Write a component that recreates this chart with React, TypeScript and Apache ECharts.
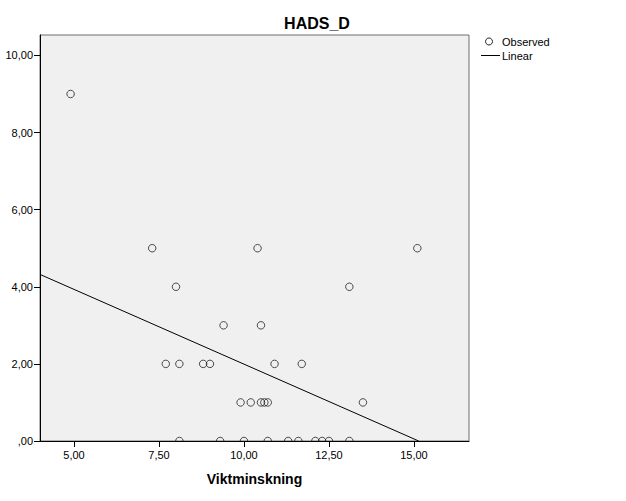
import React, { useEffect, useRef } from "react";
import * as echarts from "echarts";

const titleText = "HADS_D";
const xAxisName = "Viktminskning";
const xTicks = [5, 7.5, 10, 12.5, 15];
const yTicks = [0, 2, 4, 6, 8, 10];
const xRange = [4.0, 16.62];
const yRange = [0, 10.53];

// Observed points [Viktminskning, HADS_D]
const observed: number[][] = [
  [4.9, 9],
  [7.3, 5],
  [10.4, 5],
  [15.1, 5],
  [8.0, 4],
  [13.1, 4],
  [9.4, 3],
  [10.5, 3],
  [7.7, 2],
  [8.1, 2],
  [8.8, 2],
  [9.0, 2],
  [10.9, 2],
  [11.7, 2],
  [9.9, 1],
  [10.2, 1],
  [10.5, 1],
  [10.6, 1],
  [10.7, 1],
  [13.5, 1],
  [8.1, 0],
  [9.3, 0],
  [10.0, 0],
  [10.7, 0],
  [11.3, 0],
  [11.6, 0],
  [12.1, 0],
  [12.3, 0],
  [12.5, 0],
  [13.1, 0],
];

// Linear fit line end points
const linearFit: number[][] = [
  [4.0, 4.32],
  [15.14, 0],
];

const fmt = (v: number) => (v === 0 ? ",00" : v.toFixed(2).replace(".", ","));
const FONT = "'Liberation Sans', Arial, sans-serif";

export default function App() {
  const ref = useRef<HTMLDivElement>(null);
  useEffect(() => {
    if (!ref.current) return;
    const chart = echarts.init(ref.current, null, { renderer: "svg" });
    chart.setOption({
      animation: false,
      backgroundColor: "#ffffff",
      textStyle: { fontFamily: FONT },
      title: {
        text: titleText,
        left: 312,
        textAlign: "center",
        top: 10,
        textStyle: { fontSize: 16, fontWeight: "bold", color: "#000", fontFamily: FONT },
      },
      grid: {
        left: 40,
        right: 157,
        top: 35,
        bottom: 60,
        show: true,
        backgroundColor: "#f0f0f0",
        borderColor: "#6e6e6e",
        borderWidth: 1,
      },
      xAxis: {
        type: "value",
        min: xRange[0],
        max: xRange[1],
        z: 10,
        name: xAxisName,
        nameLocation: "middle",
        nameGap: 31,
        nameTextStyle: { fontSize: 14, fontWeight: "bold", color: "#000", fontFamily: FONT },
        splitLine: { show: false },
        axisLine: { show: true, lineStyle: { color: "#000", width: 1 } },
        axisTick: { show: true, length: 6, customValues: xTicks, lineStyle: { color: "#000" } },
        axisLabel: {
          customValues: xTicks,
          formatter: (v: number) => fmt(v),
          fontSize: 11,
          color: "#000",
          margin: 8,
          fontFamily: FONT,
        },
      },
      yAxis: {
        type: "value",
        min: yRange[0],
        max: yRange[1],
        z: 10,
        splitLine: { show: false },
        axisLine: { show: true, lineStyle: { color: "#000", width: 1 } },
        axisTick: { show: true, length: 6, customValues: yTicks, lineStyle: { color: "#000" } },
        axisLabel: {
          customValues: yTicks,
          formatter: (v: number) => fmt(v),
          fontSize: 11,
          color: "#000",
          margin: 7,
          fontFamily: FONT,
        },
      },
      graphic: [
        {
          type: "rect",
          z: 5,
          shape: { x: 34, y: 441.6, width: 440, height: 8 },
          style: { fill: "#ffffff" },
        },
        {
          type: "circle",
          shape: { cx: 489, cy: 41.5, r: 3.5 },
          style: { fill: "none", stroke: "#222", lineWidth: 1 },
        },
        {
          type: "text",
          x: 502,
          y: 42,
          style: { text: "Observed", fontSize: 11, fill: "#000", verticalAlign: "middle", fontFamily: FONT },
        },
        {
          type: "line",
          shape: { x1: 481, y1: 55.5, x2: 500, y2: 55.5 },
          style: { stroke: "#000", lineWidth: 1 },
        },
        {
          type: "text",
          x: 502,
          y: 56,
          style: { text: "Linear", fontSize: 11, fill: "#000", verticalAlign: "middle", fontFamily: FONT },
        },
      ],
      series: [
        {
          name: "Observed",
          type: "scatter",
          data: observed,
          symbol: "circle",
          symbolSize: 7.5,
          z: 3,
          clip: false,
          itemStyle: { color: "rgba(0,0,0,0)", borderColor: "#222", borderWidth: 1 },
        },
        {
          name: "Linear",
          type: "line",
          data: linearFit,
          symbol: "none",
          z: 4,
          lineStyle: { color: "#000", width: 1 },
        },
      ],
    });
    return () => chart.dispose();
  }, []);
  return <div ref={ref} style={{ width: 626, height: 501, position: "absolute", left: 0, top: 0 }} />;
}
